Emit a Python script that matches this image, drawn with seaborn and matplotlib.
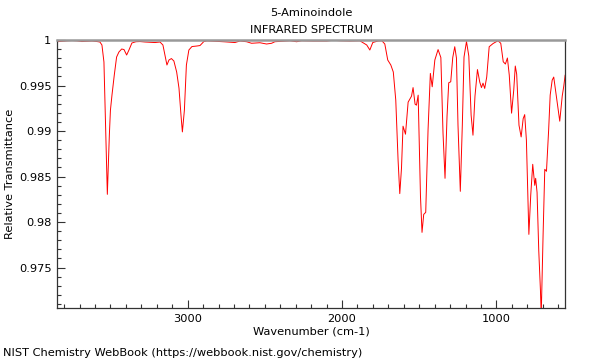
import matplotlib
matplotlib.use("Agg")
import matplotlib.pyplot as plt
import matplotlib.ticker as mticker
import seaborn as sns
import pandas as pd

title = "5-Aminoindole"
subtitle = "INFRARED SPECTRUM"
x_label = "Wavenumber (cm-1)"
y_label = "Relative Transmittance"
footer = "NIST Chemistry WebBook (https://webbook.nist.gov/chemistry)"

wavenumber = [
    3846, 3814, 3781, 3749, 3717, 3684, 3652, 3619, 3587, 3568,
    3555, 3542, 3531, 3520, 3507, 3500, 3490, 3475, 3460, 3445,
    3427, 3412, 3395, 3380, 3361, 3335, 3309, 3276, 3244, 3212,
    3179, 3160, 3147, 3134, 3121, 3105, 3089, 3071, 3056, 3043,
    3034, 3021, 3008, 2992, 2972, 2940, 2920, 2895, 2875, 2823,
    2759, 2694, 2661, 2618, 2586, 2532, 2489, 2456, 2435, 2338,
    2294, 2262, 2187, 2100, 2058, 2014, 1950, 1885, 1840, 1820,
    1801, 1768, 1742, 1723, 1704, 1684, 1668, 1652, 1637, 1626,
    1615, 1605, 1589, 1572, 1561, 1550, 1540, 1527, 1518, 1507,
    1492, 1482, 1471, 1458, 1443, 1428, 1416, 1399, 1378, 1360,
    1346, 1333, 1320, 1309, 1296, 1283, 1270, 1259, 1249, 1234,
    1221, 1210, 1194, 1179, 1164, 1152, 1139, 1123, 1108, 1097,
    1087, 1076, 1063, 1047, 1022, 1005, 990, 972, 956, 942,
    929, 917, 902, 888, 878, 869, 854, 840, 827, 817,
    806, 790, 778, 765, 752, 746, 737, 726, 715, 710,
    698, 687, 676, 662, 652, 639, 629, 612, 590, 574,
    564, 555,
]
transmittance = [
    0.99981, 0.99986, 0.99991, 0.99994, 0.99991, 0.99983, 0.99986, 0.99989, 0.99983, 0.99978,
    0.99945, 0.99758, 0.99009, 0.98304, 0.98954, 0.99229, 0.99394, 0.99615, 0.99813, 0.99868,
    0.99901, 0.99895, 0.99835, 0.99890, 0.99967, 0.99981, 0.99983, 0.99978, 0.99975, 0.99972,
    0.99978, 0.99945, 0.99835, 0.99725, 0.99780, 0.99796, 0.99769, 0.99648, 0.99471, 0.99174,
    0.98990, 0.99229, 0.99725, 0.99890, 0.99928, 0.99934, 0.99939, 0.99983, 0.99991, 0.99986,
    0.99980, 0.99972, 0.99989, 0.99981, 0.99964, 0.99970, 0.99956, 0.99964, 0.99981, 0.99992,
    0.99981, 0.99992, 0.99989, 0.99989, 0.99997, 0.99992, 0.99989, 0.99992, 0.99945, 0.99890,
    0.99972, 0.99989, 0.99992, 0.99956, 0.99780, 0.99725, 0.99648, 0.99339, 0.98678, 0.98312,
    0.98590, 0.99053, 0.98965, 0.99317, 0.99350, 0.99383, 0.99477, 0.99295, 0.99284, 0.99394,
    0.98282, 0.97886, 0.98084, 0.98106, 0.99009, 0.99633, 0.99486, 0.99780, 0.99895, 0.99807,
    0.98976, 0.98480, 0.99163, 0.99530, 0.99541, 0.99807, 0.99926, 0.99802, 0.99064, 0.98337,
    0.99064, 0.99813, 0.99983, 0.99824, 0.99174, 0.98954, 0.99383, 0.99675, 0.99537, 0.99477,
    0.99526, 0.99468, 0.99593, 0.99926, 0.99961, 0.99978, 0.99992, 0.99964, 0.99761, 0.99736,
    0.99802, 0.99615, 0.99196, 0.99449, 0.99714, 0.99626, 0.99064, 0.98935, 0.99135, 0.99180,
    0.98899, 0.97864, 0.98293, 0.98634, 0.98403, 0.98480, 0.98326, 0.97687, 0.97247, 0.96971,
    0.97852, 0.98579, 0.98557, 0.99009, 0.99394, 0.99559, 0.99593, 0.99383, 0.99108, 0.99383,
    0.99493, 0.99615,
]

x_ticks = [3000, 2000, 1000]
y_ticks = [0.975, 0.98, 0.985, 0.99, 0.995, 1.0]
y_tick_labels = ["0.975", "0.98", "0.985", "0.99", "0.995", "1"]

df = pd.DataFrame({"w": wavenumber, "t": transmittance})

sns.set_style("white")
plt.rcParams["font.family"] = ["DejaVu Sans"]
plt.rcParams["text.color"] = "black"
plt.rcParams["axes.labelcolor"] = "black"

fs = 8.2
fig = plt.figure(figsize=(6, 3.6), dpi=100)
ax = fig.add_axes([57 / 600, 1 - 308 / 360, (565 - 57) / 600, (308 - 40) / 360])

sns.lineplot(data=df, x="w", y="t", sort=False, estimator=None, ax=ax,
             color="#ff0000", linewidth=0.7)

ax.set_xlim(3846, 556)
ax.set_ylim(0.97055, 1.0)

ax.xaxis.set_major_locator(mticker.FixedLocator(x_ticks))
ax.xaxis.set_minor_locator(mticker.MultipleLocator(100))
ax.yaxis.set_major_locator(mticker.FixedLocator(y_ticks))
ax.yaxis.set_major_formatter(mticker.FixedFormatter(y_tick_labels))
ax.yaxis.set_minor_locator(mticker.MultipleLocator(0.001))

ax.tick_params(axis="both", which="both", bottom=True, left=True, top=False, right=False)
ax.tick_params(axis="both", which="major", direction="in", length=6, width=0.8,
               color="#333333", labelsize=fs, labelcolor="#000000", pad=4)
ax.tick_params(axis="both", which="minor", direction="in", length=3, width=0.8,
               color="#333333")

for side in ["left", "bottom", "right"]:
    ax.spines[side].set_color("#333333")
    ax.spines[side].set_linewidth(0.9)
ax.spines["top"].set_color("#999999")
ax.spines["top"].set_linewidth(1.8)

ax.set_xlabel(x_label, fontsize=fs, color="black")
ax.set_ylabel(y_label, fontsize=fs, color="black")
ax.xaxis.set_label_coords(0.5, (308 - 332) / 268)
ax.yaxis.set_label_coords((10 - 57) / 508, 0.5)
ax.xaxis.label.set_va("center")
ax.yaxis.label.set_va("center")

fig.text(311 / 600, 1 - 13 / 360, title, ha="center", va="center", fontsize=fs, color="black")
fig.text(311 / 600, 1 - 30 / 360, subtitle, ha="center", va="center", fontsize=fs, color="black")
fig.text(3 / 600, 1 - 353 / 360, footer, ha="left", va="center", fontsize=fs, color="black")

fig.savefig("out.png", dpi=100)
